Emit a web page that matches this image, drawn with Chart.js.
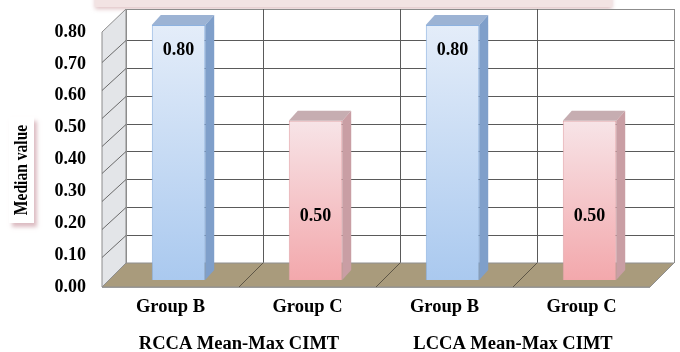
<!DOCTYPE html>
<html>
<head>
<meta charset="utf-8">
<script src="https://cdn.jsdelivr.net/npm/chart.js@4.4.1/dist/chart.umd.min.js"></script>
<style>
  html, body { margin: 0; padding: 0; background: #fff; }
  #wrap { width: 680px; height: 352px; position: relative; }
</style>
</head>
<body>
<div id="wrap"><canvas id="cimtChart"></canvas></div>
<script>
// 데이터
const groupLabels = ['Group B', 'Group C', 'Group B', 'Group C'];
const arteryLabels = ['RCCA Mean-Max CIMT', 'LCCA Mean-Max CIMT'];
const medianValues = [0.80, 0.50, 0.80, 0.50];
const yTicks = [0.00, 0.10, 0.20, 0.30, 0.40, 0.50, 0.60, 0.70, 0.80];
const yTitle = 'Median value';

// 막대 색 (앞면 위/아래, 옆면, 윗면, 테두리)
const frontTop = ['#e4edf9', '#f7e4e7', '#e4edf9', '#f7e4e7'];
const frontBottom = ['#aac9ef', '#f3a8ac', '#aac9ef', '#f3a8ac'];
const sideColor = ['#7f9fca', '#c99ea4', '#7f9fca', '#c99ea4'];
const topColor = ['#9cb3d4', '#c6adb1', '#9cb3d4', '#c6adb1'];
const edgeColor = ['#8db2e0', '#e3a6ab', '#8db2e0', '#e3a6ab'];
// 값 라벨 위치 (막대 높이 비율)
const labelFrac = [0.9, 0.4, 0.9, 0.4];

const serif = '"Liberation Serif", "Times New Roman", serif';
Chart.defaults.font.family = serif;
Chart.defaults.font.size = 18;
Chart.defaults.font.weight = 'bold';
Chart.defaults.color = '#000';

function line(c, x1, y1, x2, y2, col) {
  c.beginPath();
  c.moveTo(x1, y1);
  c.lineTo(x2, y2);
  c.strokeStyle = col;
  c.lineWidth = 1;
  c.stroke();
}

// 3D 상자, 벽, 바닥 그리기
const cube = {
  id: 'cube',
  beforeDraw(chart) {
    const c = chart.ctx;
    // 위쪽 잘린 상자
    c.save();
    c.shadowColor = 'rgba(200,150,155,0.6)';
    c.shadowBlur = 4;
    c.shadowOffsetY = 2;
    c.fillStyle = '#f2e3e3';
    c.fillRect(95, -6, 517, 13);
    c.restore();
    // 세로축 제목
    c.save();
    c.shadowColor = 'rgba(205,160,168,0.7)';
    c.shadowBlur = 4;
    c.shadowOffsetX = 3;
    c.shadowOffsetY = 4;
    c.fillStyle = '#fff';
    c.fillRect(9, 117, 25, 106);
    c.restore();
    c.save();
    c.translate(22, 170);
    c.rotate(-Math.PI / 2);
    c.scale(0.82, 1);
    c.font = 'bold 19px ' + serif;
    c.fillStyle = '#000';
    c.textAlign = 'center';
    c.textBaseline = 'middle';
    c.fillText(yTitle, 0, 0);
    c.restore();
  },
  beforeDatasetsDraw(chart) {
    const c = chart.ctx;
    const a = chart.chartArea;
    const y = chart.scales.y;
    const D = 24;
    const frontY = a.bottom + 7, backY = frontY - D;
    const frontL = a.left - 8, frontR = a.right - 8;
    const backL = frontL + D, backR = frontR + D;
    const wallTop = a.top + 3;
    const back = v => backY - (y.getPixelForValue(0) - y.getPixelForValue(v)) * 0.875;
    c.save();
    // 뒷벽
    c.fillStyle = '#fff';
    c.fillRect(backL, wallTop, backR - backL, backY - wallTop);
    // 옆벽
    c.beginPath();
    c.moveTo(frontL, frontY);
    c.lineTo(backL, backY);
    c.lineTo(backL, wallTop);
    c.lineTo(frontL, wallTop + D - 1);
    c.closePath();
    c.fillStyle = '#e3e5e8';
    c.fill();
    c.strokeStyle = '#8c8c8c';
    c.stroke();
    // 눈금선
    yTicks.forEach(v => {
      if (v === 0) return;
      const yy = Math.round(back(v)) + 0.5;
      line(c, backL, yy, backR, yy, '#5a5a5a');
      line(c, frontL, yy + D - 2, backL, yy, '#6a6a6a');
    });
    line(c, backL, wallTop + 0.5, backR, wallTop + 0.5, '#8c8c8c');
    for (let i = 0; i <= groupLabels.length; i++) {
      const x = Math.round(backL + i * (backR - backL) / groupLabels.length) + 0.5;
      line(c, x, wallTop, x, backY, i === 0 || i === groupLabels.length ? '#8c8c8c' : '#5a5a5a');
    }
    // 바닥
    c.beginPath();
    c.moveTo(frontL, frontY);
    c.lineTo(frontR, frontY);
    c.lineTo(backR, backY);
    c.lineTo(backL, backY);
    c.closePath();
    c.fillStyle = '#a99b7c';
    c.fill();
    c.strokeStyle = '#8f8f8f';
    c.stroke();
    for (let i = 1; i < groupLabels.length; i++) {
      const x = backL + i * (backR - backL) / groupLabels.length;
      line(c, x, backY, x - D, frontY, '#5e5646');
    }
    line(c, frontL, frontY + 0.5, frontR, frontY + 0.5, '#9a9a9a');
    c.restore();
  },
  afterDatasetsDraw(chart) {
    const c = chart.ctx;
    const meta = chart.getDatasetMeta(0);
    const dx = 9, dy = -10;
    c.save();
    meta.data.forEach((bar, i) => {
      const p = bar.getProps(['x', 'y', 'base', 'width'], true);
      const x1 = p.x - p.width / 2, x2 = p.x + p.width / 2;
      // 윗면
      c.beginPath();
      c.moveTo(x1, p.y);
      c.lineTo(x1 + dx, p.y + dy);
      c.lineTo(x2 + dx, p.y + dy);
      c.lineTo(x2, p.y);
      c.closePath();
      c.fillStyle = topColor[i];
      c.fill();
      // 옆면
      c.beginPath();
      c.moveTo(x2, p.y);
      c.lineTo(x2 + dx, p.y + dy);
      c.lineTo(x2 + dx, p.base + dy);
      c.lineTo(x2, p.base);
      c.closePath();
      c.fillStyle = sideColor[i];
      c.fill();
      // 값 라벨
      c.font = 'bold 18px ' + serif;
      c.fillStyle = '#000';
      c.textAlign = 'center';
      c.textBaseline = 'middle';
      c.fillText(medianValues[i].toFixed(2), p.x, p.base - (p.base - p.y) * labelFrac[i]);
    });
    c.restore();
  }
};

const ctx = document.getElementById('cimtChart').getContext('2d');
const cimtChart = new Chart(ctx, {
  type: 'bar',
  data: {
    labels: groupLabels,
    datasets: [{
      label: yTitle,
      data: medianValues,
      backgroundColor: function(context) {
        const i = context.dataIndex;
        const chart = context.chart;
        if (!chart.chartArea || !chart.scales.y) return frontBottom[i];
        const y = chart.scales.y;
        const g = chart.ctx.createLinearGradient(0, y.getPixelForValue(medianValues[i]), 0, y.getPixelForValue(0));
        g.addColorStop(0, frontTop[i]);
        g.addColorStop(1, frontBottom[i]);
        return g;
      },
      borderColor: edgeColor,
      borderWidth: 1,
      categoryPercentage: 1,
      barPercentage: 0.39
    }]
  },
  options: {
    responsive: true,
    maintainAspectRatio: false,
    animation: false,
    layout: { padding: { left: 0, right: 22, top: 6, bottom: 0 } },
    plugins: {
      legend: { display: false },
      tooltip: { enabled: false }
    },
    scales: {
      y: {
        min: 0,
        max: 0.86,
        border: { display: false },
        grid: { display: false, drawTicks: false },
        afterBuildTicks: scale => { scale.ticks = yTicks.map(v => ({ value: v })); },
        afterFit: scale => { scale.width = 110; scale.paddingTop = 0; scale.paddingBottom = 0; },
        ticks: {
          padding: 24,
          labelOffset: 7,
          callback: v => Number(v).toFixed(2)
        }
      },
      x: {
        border: { display: false },
        grid: { display: false, drawTicks: false },
        afterFit: scale => { scale.height = 40; scale.paddingLeft = 0; scale.paddingRight = 0; },
        ticks: { padding: 16, labelOffset: -8, maxRotation: 0, font: { size: 18.5 } }
      },
      x2: {
        type: 'category',
        position: 'bottom',
        labels: arteryLabels,
        offset: true,
        border: { display: false },
        grid: { display: false, drawTicks: false },
        afterFit: scale => { scale.height = 32; scale.paddingLeft = 0; scale.paddingRight = 0; },
        ticks: { padding: 13, labelOffset: -8, maxRotation: 0, font: { size: 18.5 } }
      }
    }
  },
  plugins: [cube]
});
</script>
</body>
</html>
